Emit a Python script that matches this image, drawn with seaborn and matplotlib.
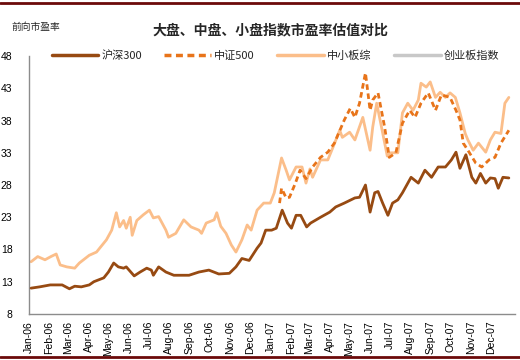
import numpy as np
import pandas as pd
import matplotlib
matplotlib.use("Agg")
import matplotlib.pyplot as plt
import matplotlib.dates as mdates
from matplotlib.lines import Line2D
import seaborn as sns

# 沪深300 前向市盈率
hs300_dates = ["2006-01-04", "2006-01-17", "2006-02-02", "2006-02-20", "2006-03-03", "2006-03-11",
               "2006-03-21", "2006-04-02", "2006-04-09", "2006-04-24", "2006-05-01", "2006-05-09",
               "2006-05-16", "2006-05-24", "2006-05-28", "2006-06-09", "2006-06-18", "2006-06-28",
               "2006-07-05", "2006-07-08", "2006-07-16", "2006-07-27", "2006-08-08", "2006-08-31",
               "2006-09-15", "2006-09-30", "2006-10-15", "2006-10-31", "2006-11-10", "2006-11-19",
               "2006-11-30", "2006-12-12", "2006-12-18", "2006-12-25", "2007-01-03", "2007-01-10",
               "2007-01-19", "2007-01-27", "2007-02-02", "2007-02-09", "2007-02-16", "2007-02-25",
               "2007-03-03", "2007-03-18", "2007-04-01", "2007-04-10", "2007-04-23", "2007-05-09",
               "2007-05-16", "2007-05-25", "2007-06-01", "2007-06-08", "2007-06-13", "2007-06-20",
               "2007-06-28", "2007-07-05", "2007-07-13", "2007-07-20", "2007-08-02", "2007-08-13",
               "2007-08-23", "2007-09-02", "2007-09-12", "2007-09-23", "2007-10-02", "2007-10-09",
               "2007-10-15", "2007-10-24", "2007-11-02", "2007-11-08", "2007-11-15", "2007-11-23",
               "2007-11-30", "2007-12-07", "2007-12-12", "2007-12-19", "2007-12-28"]
hs300_pe = [12.0, 12.2, 12.5, 12.5, 11.9, 12.3, 12.2, 12.5, 13.0, 13.6, 14.5, 15.9,
            15.3, 15.1, 15.3, 13.9, 14.5, 15.1, 14.8, 14.0, 15.3, 14.5, 14.0, 14.0,
            14.5, 14.8, 14.2, 14.3, 15.3, 16.6, 16.3, 18.2, 19.0, 21.0, 21.0, 21.3,
            24.1, 22.1, 21.3, 23.3, 23.3, 21.5, 22.1, 23.0, 23.8, 24.6, 25.2, 26.0,
            26.1, 28.0, 23.8, 26.8, 27.0, 25.2, 23.3, 25.2, 25.7, 26.8, 29.2, 28.3,
            30.3, 29.2, 30.8, 30.8, 31.9, 33.1, 30.6, 32.7, 29.2, 28.3, 29.8, 28.3,
            29.1, 29.0, 27.5, 29.2, 29.1]

# 中证500
zz500_dates = ["2007-01-15", "2007-01-18", "2007-01-25", "2007-01-30", "2007-02-08", "2007-02-15",
               "2007-02-24", "2007-03-06", "2007-03-18", "2007-03-29", "2007-04-08", "2007-04-23",
               "2007-05-02", "2007-05-09", "2007-05-16", "2007-05-25", "2007-06-01", "2007-06-05",
               "2007-06-13", "2007-06-23", "2007-06-30", "2007-07-10", "2007-07-20", "2007-07-31",
               "2007-08-08", "2007-08-17", "2007-08-28", "2007-09-08", "2007-09-17", "2007-09-30",
               "2007-10-09", "2007-10-15", "2007-10-20", "2007-10-27", "2007-11-08", "2007-11-17",
               "2007-11-28", "2007-12-07", "2007-12-16", "2007-12-28"]
zz500_pe = [25.2, 27.5, 26.0, 26.1, 28.3, 30.3, 29.0, 30.8, 32.3, 33.1, 34.5, 38.1,
            39.9, 38.5, 40.7, 45.4, 39.6, 41.2, 42.3, 37.0, 32.3, 33.0, 37.6, 39.6,
            38.5, 40.7, 42.3, 39.6, 42.0, 41.6, 39.6, 38.1, 34.5, 33.4, 31.4, 30.8,
            31.9, 32.3, 34.5, 36.5]

# 中小板综
zxb_dates = ["2006-01-04", "2006-01-14", "2006-01-25", "2006-02-03", "2006-02-11", "2006-02-17",
             "2006-02-27", "2006-03-11", "2006-03-18", "2006-04-02", "2006-04-13", "2006-04-28",
             "2006-05-06", "2006-05-13", "2006-05-18", "2006-05-24", "2006-05-28", "2006-06-03",
             "2006-06-06", "2006-06-13", "2006-06-23", "2006-07-02", "2006-07-08", "2006-07-16",
             "2006-07-27", "2006-07-31", "2006-08-11", "2006-08-23", "2006-09-03", "2006-09-15",
             "2006-09-19", "2006-09-26", "2006-10-08", "2006-10-12", "2006-10-18", "2006-10-26",
             "2006-11-03", "2006-11-10", "2006-11-19", "2006-11-27", "2006-12-03", "2006-12-12",
             "2006-12-22", "2007-01-01", "2007-01-07", "2007-01-18", "2007-01-25", "2007-01-30",
             "2007-02-09", "2007-02-18", "2007-02-24", "2007-03-02", "2007-03-06", "2007-03-18",
             "2007-03-29", "2007-04-06", "2007-04-16", "2007-04-20", "2007-05-01", "2007-05-09",
             "2007-05-21", "2007-06-01", "2007-06-05", "2007-06-11", "2007-06-20", "2007-06-27",
             "2007-07-02", "2007-07-13", "2007-07-20", "2007-07-28", "2007-08-05", "2007-08-13",
             "2007-08-17", "2007-08-25", "2007-08-31", "2007-09-08", "2007-09-15", "2007-09-23",
             "2007-09-30", "2007-10-08", "2007-10-15", "2007-10-23", "2007-10-27", "2007-11-04",
             "2007-11-12", "2007-11-23", "2007-11-30", "2007-12-07", "2007-12-16", "2007-12-22",
             "2007-12-28"]
zxb_pe = [16.1, 16.9, 16.4, 16.9, 17.3, 15.6, 15.3, 15.1, 15.9, 17.1, 17.6, 19.5,
          21.0, 23.7, 21.5, 22.5, 21.3, 23.0, 20.2, 22.5, 23.4, 24.1, 22.9, 23.1,
          21.0, 19.9, 20.5, 22.6, 21.5, 21.0, 20.5, 22.1, 22.6, 23.7, 21.6, 20.5,
          18.7, 17.6, 19.5, 21.8, 21.0, 24.1, 25.2, 25.2, 26.8, 32.2, 30.3, 28.8,
          30.8, 30.8, 28.3, 30.5, 29.2, 31.9, 31.9, 33.9, 36.5, 35.4, 36.2, 35.0,
          38.5, 33.4, 37.0, 40.7, 36.1, 32.5, 33.0, 33.0, 39.2, 40.7, 39.6, 41.2,
          43.8, 43.2, 44.0, 41.6, 42.4, 41.6, 42.3, 41.6, 39.2, 36.0, 35.0, 33.4,
          34.5, 33.1, 35.0, 36.2, 36.0, 40.7, 41.6]

# 创业板指数 (图例中有，但无数据)
cyb_dates = []
cyb_pe = []

names = ["沪深300", "中证500", "中小板综", "创业板指数"]
colors = ["#974A12", "#E8741A", "#FBBE8A", "#C8C8C8"]
month_ticks = pd.date_range("2006-01-01", "2007-12-01", freq="MS")

sns.set_style("white")
plt.rcParams['font.family'] = ['Noto Sans CJK SC', 'DejaVu Sans']

fig = plt.figure(figsize=(5.2, 3.6), dpi=100)
ax = fig.add_axes([0.056, 0.128, 0.934, 0.716])

series = [(hs300_dates, hs300_pe), (zz500_dates, zz500_pe), (zxb_dates, zxb_pe)]
styles = ["-", (0, (2.0, 1.3)), "-"]
zorders = [4, 3, 2]
for (d, v), c, ls, z in zip(series, colors, styles, zorders):
    df = pd.DataFrame({"date": pd.to_datetime(d), "pe": v})
    sns.lineplot(data=df, x="date", y="pe", ax=ax, color=c, linewidth=2.0,
                 linestyle=ls, zorder=z)

ax.set_ylim(8, 48)
ax.set_yticks(np.arange(8, 49, 5))
ax.set_xlim(pd.Timestamp("2006-01-01"), pd.Timestamp("2008-01-06"))
ax.set_xticks(month_ticks)
ax.xaxis.set_major_formatter(mdates.DateFormatter("%b-%y"))
ax.set_xlabel("")
ax.set_ylabel("")

for lab in ax.get_xticklabels():
    lab.set_rotation(90)
    lab.set_family("Liberation Sans")
    lab.set_fontsize(7.5)
for lab in ax.get_yticklabels():
    lab.set_family("Liberation Sans")
    lab.set_fontsize(7.5)

for s in ["top", "right"]:
    ax.spines[s].set_visible(False)
for s in ["left", "bottom"]:
    ax.spines[s].set_color("#8C8C8C")
    ax.spines[s].set_linewidth(1.0)
ax.tick_params(axis="both", direction="out", length=3, width=0.8, color="#8C8C8C",
               labelcolor="black", pad=2)
ax.tick_params(axis="y", pad=9)
ax.grid(False)

handles = [Line2D([], [], color=c, linewidth=2.5, linestyle=ls)
           for c, ls in zip(colors, styles + ["-"])]
fig.legend(handles, names, loc="center", bbox_to_anchor=(0.53, 0.845), ncol=4,
           frameon=False, handlelength=4.2, columnspacing=2.0, handletextpad=0.3,
           prop={"family": ["Noto Sans CJK SC", "DejaVu Sans"], "size": 8})

fig.text(0.52, 0.915, "大盘、中盘、小盘指数市盈率估值对比", ha="center", va="center",
         fontsize=10, fontweight="bold")
fig.text(0.022, 0.925, "前向市盈率", ha="left", va="center", fontsize=7)

fig.add_artist(Line2D([0, 1], [0.991, 0.991], color="#6B0A0A", linewidth=2.0,
                      transform=fig.transFigure))
fig.add_artist(Line2D([0, 1], [0.007, 0.007], color="#6B0A0A", linewidth=2.0,
                      transform=fig.transFigure))

fig.savefig("out.png", dpi=100, facecolor="white")
